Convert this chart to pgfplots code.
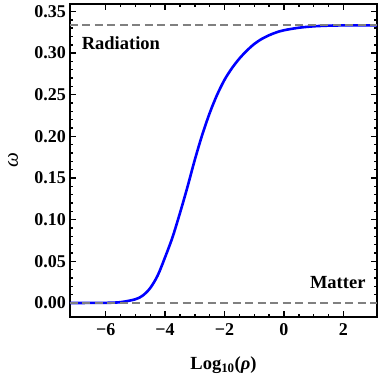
\documentclass[border=0pt]{standalone}
\usepackage{fontspec}
\setmainfont{Liberation Serif}
\usepackage{pgfplots}
\pgfplotsset{compat=1.18}
\usetikzlibrary{calc}

\newcommand{\tlbl}{\fontsize{18bp}{20bp}\selectfont\bfseries}
\newcommand{\lbl}{\fontsize{18.5bp}{21bp}\selectfont\bfseries}

\begin{document}
\begin{tikzpicture}
\begin{axis}[
  scale only axis,
  width=307bp, height=313bp,
  xmin=-7.2, xmax=3.13,
  ymin=-0.0168, ymax=0.359,
  axis line style={line width=1.8bp, black},
  tick align=inside,
  major tick length=6bp,
  minor tick length=3.5bp,
  tick style={line width=1.4bp, black},
  xtick={-6,-4,-2,0,2},
  xticklabels={−6,−4,−2,0,2},
  minor x tick num=3,
  ytick={0,0.05,0.10,0.15,0.20,0.25,0.30,0.35},
  yticklabels={0.00,0.05,0.10,0.15,0.20,0.25,0.30,0.35},
  minor y tick num=4,
  ticklabel style={font=\tlbl},
  xticklabel style={yshift=-3bp},
  yticklabel style={xshift=-0.5bp},
  xlabel={\lbl Log\textsubscript{10}(\textit{ρ})},
  ylabel={\fontsize{21bp}{23bp}\selectfont\textit{ω}},
  xlabel style={at={(axis description cs:0.5,-0.1693)}, anchor=base},
  ylabel style={at={(axis description cs:-0.1857,0.5)}, anchor=center},
  clip=true,
]
% w against log10(rho)
\addplot[blue, line width=2.6bp, smooth] coordinates {
  (-7.2,0.0000) (-6.5,0.0001) (-6.0,0.0002) (-5.5,0.0010)
  (-5.0,0.0045) (-4.75,0.0090) (-4.5,0.0180) (-4.25,0.0330)
  (-4.0,0.0550) (-3.75,0.0790) (-3.5,0.1080) (-3.25,0.1390)
  (-3.0,0.1720) (-2.75,0.2020) (-2.5,0.2280) (-2.25,0.2500)
  (-2.0,0.2680) (-1.75,0.2820) (-1.5,0.2935) (-1.25,0.3030)
  (-1.0,0.3110) (-0.75,0.3170) (-0.5,0.3215) (-0.25,0.3250)
  (0.0,0.3275) (0.5,0.3305) (1.0,0.3322) (1.5,0.3330)
  (2.0,0.3333) (3.13,0.3333)
};
\addplot[gray, line width=2.1bp, dash pattern=on 8bp off 4.5bp] coordinates {(-7.2,0) (3.13,0)};
\addplot[gray, line width=2.1bp, dash pattern=on 8bp off 4.5bp] coordinates {(-7.2,0.33333) (3.13,0.33333)};
\node[anchor=west, font=\lbl] at (axis cs:-6.92,0.312) {Radiation};
\node[anchor=east, font=\lbl] at (axis cs:2.86,0.024) {Matter};
\coordinate (ll) at (rel axis cs:0,0);
\coordinate (ur) at (rel axis cs:1,1);
\end{axis}
\pgfresetboundingbox
\path ($(ll)+(-70bp,-61bp)$) rectangle ($(ur)+(5bp,4bp)$);
\end{tikzpicture}
\end{document}
